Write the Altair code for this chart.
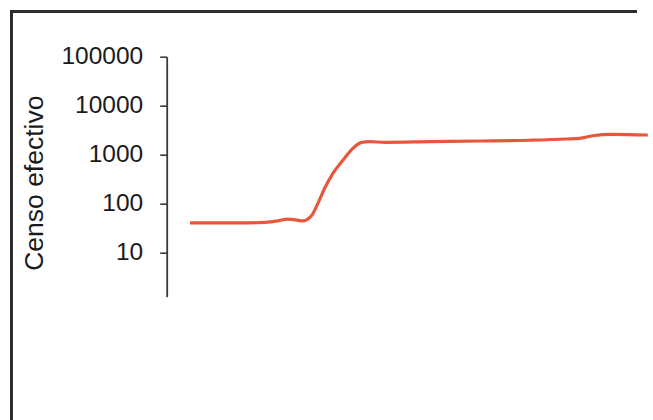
import altair as alt
import pandas as pd

# Time position (arbitrary units, axis hidden) and effective population size
tiempo = [4.8, 9.9, 15.1, 20.2, 22.9, 24.9, 26.6, 28.0, 29.9, 31.1, 32.5, 34.2,
          36.3, 38.3, 40.1, 41.8, 44.9, 54.1, 64.4, 74.7, 82.3, 85.0, 87.6, 91.8, 99.0]
censo = [40, 40, 40, 41, 44, 48, 46, 44, 58, 100, 204, 413,
         773, 1340, 1778, 1828, 1778, 1830, 1888, 1960, 2075, 2144, 2421, 2588, 2506]
y_ticks = [100000, 10000, 1000, 100, 10]

df = pd.DataFrame({"t": tiempo, "censo": censo})

line = alt.Chart(df).mark_line(
    color="#e8573c", strokeWidth=3.2, interpolate="monotone", clip=True
).encode(
    x=alt.X("t:Q", scale=alt.Scale(domain=[0, 100], nice=False), axis=None),
    y=alt.Y(
        "censo:Q",
        scale=alt.Scale(type="log", domain=[1.24, 100000], nice=False),
        axis=alt.Axis(
            values=y_ticks,
            format="d",
            title="Censo efectivo",
            titleFont="Liberation Sans",
            titleFontSize=26.5,
            titleFontWeight="normal",
            titleColor="#1a1a1a",
            titleAngle=270,
            titleAlign="center",
            titleBaseline="alphabetic",
            titleX=-124,
            titleY=126,
            labelFont="Liberation Sans",
            labelFontSize=24.5,
            labelColor="#1a1a1a",
            labelPadding=17,
            labelBaseline="middle",
            tickSize=7,
            tickColor="#3a3a3a",
            tickWidth=1.6,
            domainColor="#3a3a3a",
            domainWidth=1.8,
            grid=False,
        ),
    ),
)

frame_left = alt.Chart(df).mark_rule(color="#2e2e2e", strokeWidth=2).encode(
    x=alt.value(-155),
    y=alt.value(-46),
    y2=alt.value(500),
)
frame_top = alt.Chart(df).mark_rule(color="#2e2e2e", strokeWidth=2).encode(
    x=alt.value(-156),
    x2=alt.value(470),
    y=alt.value(-45),
)

chart = alt.layer(frame_left, frame_top, line).properties(
    width=486,
    height=240,
    autosize=alt.AutoSizeParams(type="none"),
    padding={"left": 166.7, "top": 56.7, "right": 0, "bottom": 123},
    background="white",
).configure_view(stroke=None)

chart.save("out.html", embed_options={"renderer": "svg", "actions": False})
